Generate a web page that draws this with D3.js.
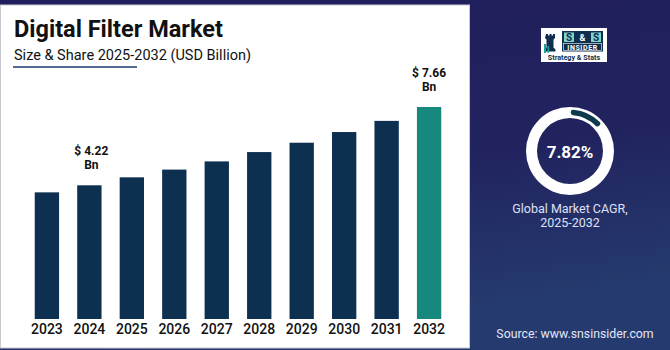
<!DOCTYPE html>
<html><head><meta charset="utf-8">
<script src="https://cdn.jsdelivr.net/npm/d3@7"></script>
<style>html,body{margin:0;padding:0;background:#201f5c;}svg{display:block;font-family:Roboto,"Noto Sans",sans-serif;}</style>
</head><body>
<div id="chart"></div>
<script>
const years = ["2023","2024","2025","2026","2027","2028","2029","2030","2031","2032"];
const values = [3.91, 4.22, 4.57, 4.91, 5.27, 5.68, 6.09, 6.56, 7.05, 7.66];
const labeled = {"2024": "$ 4.22", "2032": "$ 7.66"};
const cagr = 7.82;

const W = 670, H = 350;
const svg = d3.select("#chart").append("svg").attr("width", W).attr("height", H);
const defs = svg.append("defs");
const g = defs.append("linearGradient").attr("id","bg").attr("x1",0).attr("y1",0).attr("x2",0.3).attr("y2",1);
g.append("stop").attr("offset","0%").attr("stop-color","#201e5c");
g.append("stop").attr("offset","60%").attr("stop-color","#21235f");
g.append("stop").attr("offset","100%").attr("stop-color","#253a6e");
svg.append("rect").attr("width",W).attr("height",H).attr("fill","url(#bg)");

// white panel
svg.append("rect").attr("x",0.5).attr("y",5).attr("width",469).attr("height",343)
  .attr("fill","#ffffff").attr("stroke","#c9c9cf").attr("stroke-width",1);

// titles
svg.append("text").attr("x",14).attr("y",37).attr("font-size",23.5).attr("font-weight",700)
  .attr("fill","#111").attr("letter-spacing","0").text("Digital Filter Market");
svg.append("text").attr("x",14).attr("y",60).attr("font-size",14.5).attr("font-weight",400)
  .attr("fill","#111").text("Size & Share 2025-2032 (USD Billion)");
svg.append("line").attr("x1",13).attr("x2",137).attr("y1",67).attr("y2",67)
  .attr("stroke","#1d3a6b").attr("stroke-width",1.6);

// scales
const x = d3.scaleBand().domain(years).range([22,454]).paddingInner(0.427).paddingOuter(0.30);
const y = d3.scaleLinear().domain([-1.654, 7.66]).range([319, 107]);

svg.append("g").selectAll("rect").data(years).join("rect")
  .attr("x", d => x(d)).attr("width", x.bandwidth())
  .attr("y", (d,i) => y(values[i])).attr("height", (d,i) => y(-1.654) - y(values[i]))
  .attr("fill", d => d === "2032" ? "#16887d" : "#0d3050");

// year labels
const xAxis = d3.axisBottom(x).tickSize(0).tickPadding(0);
const ax = svg.append("g").attr("transform","translate(0,319)").call(xAxis);
ax.select(".domain").remove();
ax.selectAll("text").attr("font-family","Roboto, sans-serif").attr("font-size",14).attr("font-weight",500)
  .attr("fill","#111").attr("dy",null).attr("y",14.5);

// value labels
years.forEach((yr,i) => {
  if (!labeled[yr]) return;
  const cx = x(yr) + x.bandwidth()/2 + (yr==="2024"?2:0);
  const top = y(values[i]);
  svg.append("text").attr("text-anchor","middle").attr("font-size",12).attr("font-weight",700).attr("fill","#111")
    .attr("x",cx).attr("y",top-30).text(labeled[yr]);
  svg.append("text").attr("text-anchor","middle").attr("font-size",12).attr("font-weight",700).attr("fill","#111")
    .attr("x",cx).attr("y",top-16).text("Bn");
});

// logo
const lg = svg.append("g");
lg.append("rect").attr("x",541).attr("y",28).attr("width",66).attr("height",34).attr("fill","#fff");
lg.append("path").attr("d","M546,34 h2 v1.5 h1.5 v-1.5 h2 v1.5 h1.5 v-1.5 h2 v4 l-1.5,1.5 v8 l2,2 v2 h-11 v-2 l2,-2 v-8 l-1.5,-1.5 z").attr("fill","#0f2f4e");
lg.append("rect").attr("x",544).attr("y",44).attr("width",2).attr("height",9).attr("fill","#19a59a");
lg.append("rect").attr("x",547.5).attr("y",46).attr("width",1.5).attr("height",7).attr("fill","#19a59a");
lg.append("rect").attr("x",562).attr("y",31).attr("width",41).attr("height",20.5).attr("fill","#0f2f4e");
lg.append("rect").attr("x",564).attr("y",32.5).attr("width",10).attr("height",9.5).attr("fill","#7fd3cc");
lg.append("rect").attr("x",591).attr("y",32.5).attr("width",10).attr("height",9.5).attr("fill","#7fd3cc");
lg.append("text").attr("x",569).attr("y",41).attr("text-anchor","middle").attr("font-size",10).attr("font-weight",700).attr("fill","#0f2f4e").text("S");
lg.append("text").attr("x",582.5).attr("y",41).attr("text-anchor","middle").attr("font-size",9).attr("font-weight",700).attr("fill","#fff").text("&");
lg.append("text").attr("x",596).attr("y",41).attr("text-anchor","middle").attr("font-size",10).attr("font-weight",700).attr("fill","#0f2f4e").text("S");
lg.append("rect").attr("x",563.5).attr("y",43.5).attr("width",38).attr("height",7).attr("fill","none").attr("stroke","#fff").attr("stroke-width",0.6);
lg.append("text").attr("x",582.5).attr("y",49.8).attr("text-anchor","middle").attr("font-size",7).attr("font-weight",700).attr("fill","#fff").attr("letter-spacing","0.6").text("INSIDER");
lg.append("text").attr("x",574).attr("y",59.5).attr("text-anchor","middle").attr("font-size",7.2).attr("font-weight",700).attr("fill","#0f2f4e").text("Strategy & Stats");

// donut
const cx = 570, cy = 151;
const dg = svg.append("g").attr("transform",`translate(${cx},${cy})`);
dg.append("path").attr("d", d3.arc().innerRadius(33).outerRadius(44).startAngle(0).endAngle(2*Math.PI)()).attr("fill","#ffffff");
dg.append("path").attr("d", d3.arc().innerRadius(36).outerRadius(41.5).cornerRadius(2.5)
  .startAngle(0.02).endAngle(0.02 + 2*Math.PI*cagr/100*1.7)()).attr("fill","#0d3a4c");
dg.append("text").attr("x",0).attr("y",7).attr("text-anchor","middle").attr("font-size",17).attr("font-weight",700)
  .attr("fill","#fff").text(cagr.toFixed(2) + "%");

svg.append("text").attr("x",570).attr("y",212.5).attr("text-anchor","middle").attr("font-size",12.5).attr("fill","#dfe0f7").text("Global Market CAGR,");
svg.append("text").attr("x",570).attr("y",226.5).attr("text-anchor","middle").attr("font-size",12.5).attr("fill","#dfe0f7").text("2025-2032");

svg.append("text").attr("x",575).attr("y",338).attr("text-anchor","middle").attr("font-size",12.3).attr("fill","#e4e5f6").text("Source: www.snsinsider.com");
</script>
</body></html>
